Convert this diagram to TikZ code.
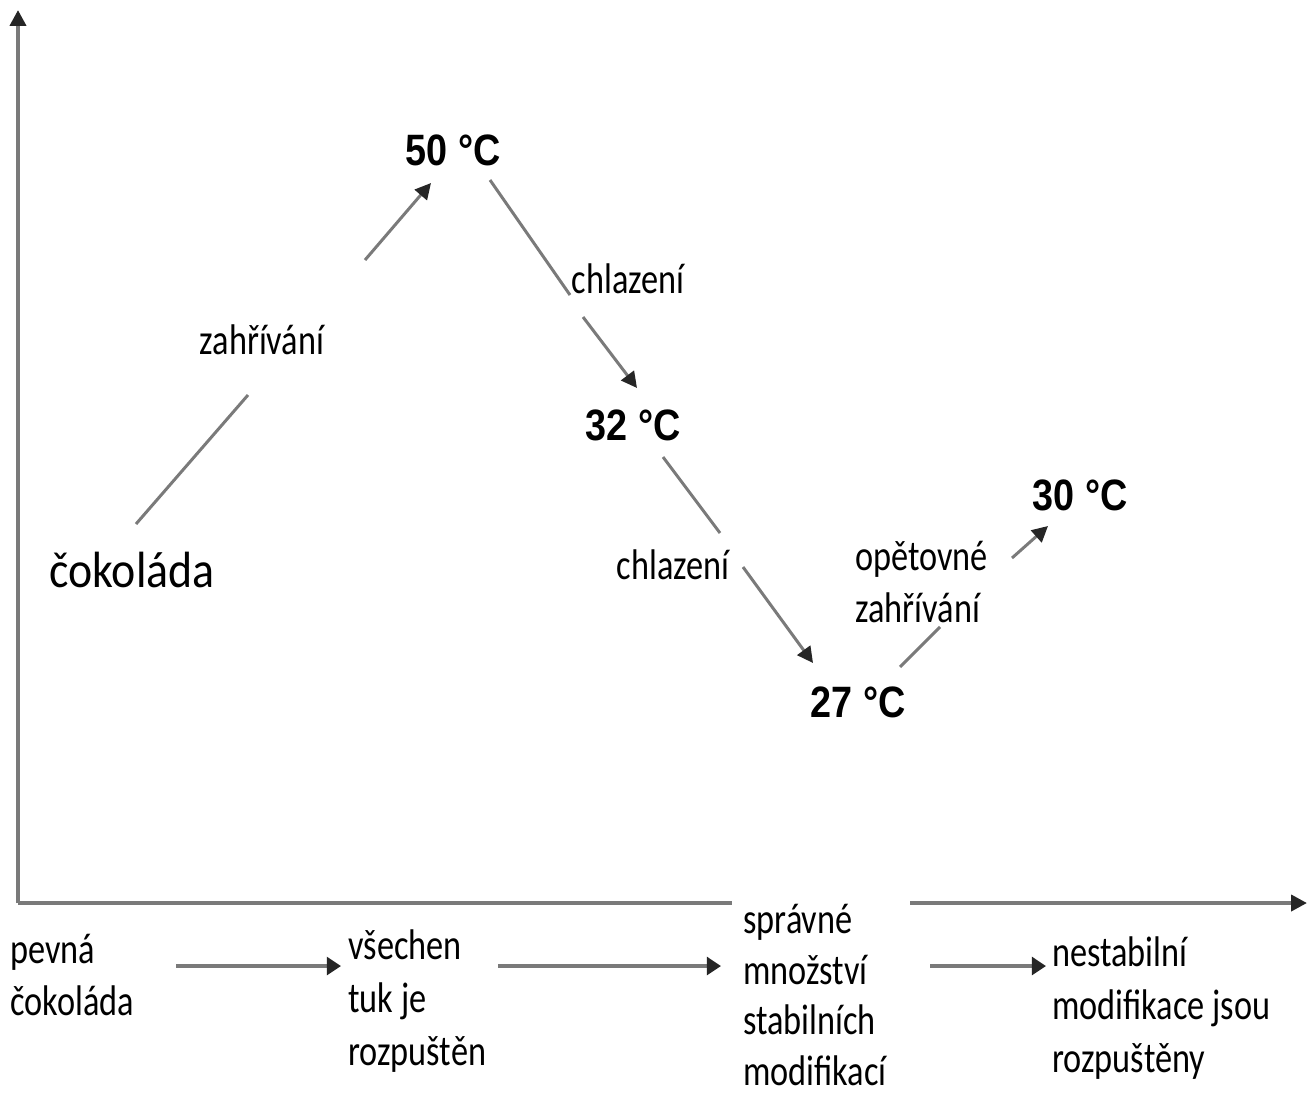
\documentclass[tikz,border=0pt]{standalone}
\usepackage{fontspec}
\usetikzlibrary{arrows.meta}
\newfontfamily\labfont[FakeStretch=0.8]{Carlito}
\newfontfamily\bigfont[FakeStretch=0.9]{Carlito}
\newfontfamily\tempfont[FakeStretch=0.86]{Liberation Sans}
\definecolor{linegray}{HTML}{7A7A7A}
\definecolor{tipgray}{HTML}{262626}
\begin{document}
\begin{tikzpicture}[x=0.02cm,y=-0.02cm,
  axisline/.style={draw=linegray,line width=2.2pt,-{Triangle[length=9pt,width=9pt,color=tipgray]}},
  axisplain/.style={draw=linegray,line width=2.2pt},
  flowarrow/.style={draw=linegray,line width=2.4pt,-{Triangle[length=8pt,width=10pt,color=tipgray]}},
  diagline/.style={draw=linegray,line width=1.7pt},
  diagarrow/.style={draw=linegray,line width=1.7pt,-{Triangle[length=9pt,width=9pt,color=tipgray]}},
  labtext/.style={font=\labfont\fontsize{24.4pt}{30pt}\selectfont,inner sep=0pt,align=left},
  labtight/.style={font=\labfont\fontsize{24.4pt}{29pt}\selectfont,inner sep=0pt,align=left},
  temptext/.style={font=\tempfont\bfseries\fontsize{25pt}{30pt}\selectfont,inner sep=0pt},
  bigtext/.style={font=\bigfont\fontsize{29pt}{35pt}\selectfont,inner sep=0pt}]
\fill[white] (0,0) rectangle (1307,1099);
\useasboundingbox (0,0) rectangle (1307,1099);

% axes
\coordinate (origin) at (18,903);
\coordinate (ytop) at (18,10);
\coordinate (xgapl) at (732,903);
\coordinate (xgapr) at (910,903);
\coordinate (xend) at (1307,903);
\draw[axisline] (origin) -- (ytop);
\draw[axisplain] (origin) -- (xgapl);
\draw[axisline] (xgapr) -- (xend);

% temperature labels
\node[temptext] (t50) at (453,150) {50 °C};
\node[temptext] (t32) at (633,425) {32 °C};
\node[temptext] (t27) at (858,702) {27 °C};
\node[temptext] (t30) at (1080,495) {30 °C};
\node[bigtext] (cok) at (132,570) {čokoláda};

% process labels
\node[labtext] (zah) at (262,340) {zahřívání};
\node[labtext] (chl1) at (628,279) {chlazení};
\node[labtext] (chl2) at (673,565) {chlazení};
\node[labtext,anchor=west] (opz) at (855,582) {opětovné\\zahřívání};

% diagonal arrows (interrupted by labels)
\coordinate (a1s) at (136,524);
\coordinate (a1m) at (248,395);
\coordinate (a1n) at (365,260);
\coordinate (a1e) at (431,183);
\draw[diagline] (a1s) -- (a1m);
\draw[diagarrow] (a1n) -- (a1e);

\coordinate (a2s) at (490,180);
\coordinate (a2m) at (570,295);
\coordinate (a2n) at (583,317);
\coordinate (a2e) at (637,388);
\draw[diagline] (a2s) -- (a2m);
\draw[diagarrow] (a2n) -- (a2e);

\coordinate (a3s) at (663,457);
\coordinate (a3m) at (720,533);
\coordinate (a3n) at (743,567);
\coordinate (a3e) at (813,663);
\draw[diagline] (a3s) -- (a3m);
\draw[diagarrow] (a3n) -- (a3e);

\coordinate (a4s) at (900,667);
\coordinate (a4m) at (940,627);
\coordinate (a4n) at (1012,558);
\coordinate (a4e) at (1048,526);
\draw[diagline] (a4s) -- (a4m);
\draw[diagarrow] (a4n) -- (a4e);

% bottom stages
\node[labtext,anchor=west] (s1) at (10,975) {pevná\\čokoláda};
\node[labtext,anchor=west] (s2) at (348,1001) {všechen\\tuk je\\rozpuštěn};
\node[labtight,anchor=west] (s3) at (743,995) {správné\\množství\\stabilních\\modifikací};
\node[labtext,anchor=west] (s4) at (1052,1008) {nestabilní\\modifikace jsou\\rozpuštěny};

\coordinate (b1s) at (176,966);
\coordinate (b1e) at (341,966);
\coordinate (b2s) at (498,966);
\coordinate (b2e) at (721,966);
\coordinate (b3s) at (930,966);
\coordinate (b3e) at (1046,966);
\draw[flowarrow] (b1s) -- (b1e);
\draw[flowarrow] (b2s) -- (b2e);
\draw[flowarrow] (b3s) -- (b3e);
\end{tikzpicture}
\end{document}
